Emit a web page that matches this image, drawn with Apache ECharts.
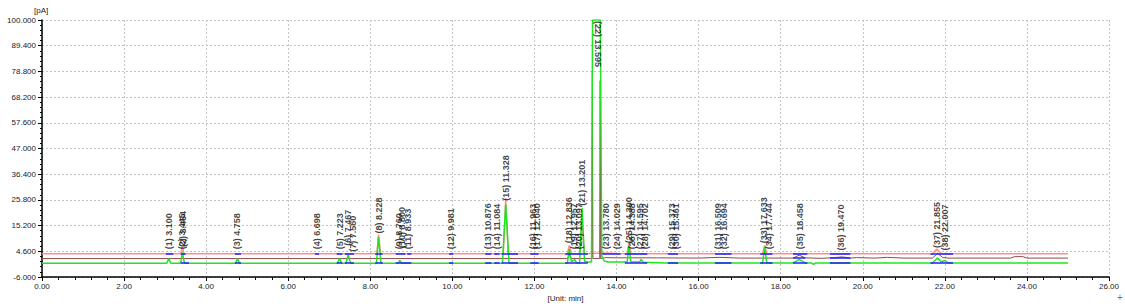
<!DOCTYPE html>
<html>
<head>
<meta charset="utf-8">
<script src="https://cdn.jsdelivr.net/npm/echarts@6/dist/echarts.min.js"></script>
<style>
html,body{margin:0;padding:0;background:#fff;}
#c{width:1125px;height:304px;}
</style>
</head>
<body>
<div id="c"></div>
<script>
// ---- data (time in min, signal in pA) ----
const yUnit = '[pA]';
const xUnit = '[Unit: min]';

const pinkTrace = [
  [0,3.6],[3.38,3.6],[3.42,6.5],[3.46,3.6],[8.16,3.6],[8.2,11.5],[8.25,3.6],
  [11.24,3.6],[11.3,26.5],[11.36,3.6],[12.8,3.6],[12.85,7],[12.9,3.6],
  [13.1,3.6],[13.16,16],[13.22,3.6],[13.38,3.7],[13.7,3.9],[14.0,3.7],
  [14.26,3.6],[14.3,8],[14.35,3.6],[17.56,3.6],[17.61,7],[17.66,3.6],
  [21.7,3.6],[21.8,5.5],[21.92,3.6],[25,3.6]
];

const brownTrace = [
  [0,1.6],[12.8,1.6],[12.85,3],[12.9,1.6],[13.4,1.6],[13.412,79],[13.424,1.6],
  [13.59,1.6],[13.602,75],[13.614,1.6],[13.75,2.0],[14.0,1.9],[15.0,1.9],
  [16.0,1.8],[16.5,2.1],[17.0,1.8],[18.3,1.8],[18.45,3.0],[18.6,1.9],
  [19.0,1.7],[19.3,2.0],[19.5,2.3],[19.7,1.8],[19.85,2.0],[20.3,1.8],
  [20.6,2.1],[21.0,1.8],[21.7,1.8],[21.82,3.8],[21.95,2.0],[22.1,1.8],
  [23.6,1.8],[23.7,2.4],[23.9,2.4],[24.0,1.8],[25,1.8]
];

const greenTrace = [
  [0,-0.3],[3.04,-0.3],[3.09,1.6],[3.14,-0.3],[3.38,-0.3],[3.42,4.2],[3.47,-0.3],
  [4.72,-0.3],[4.76,1.6],[4.81,-0.3],[7.2,-0.3],[7.25,1.8],[7.3,-0.3],
  [7.41,-0.3],[7.46,3.2],[7.52,-0.3],[8.15,-0.3],[8.2,10.5],[8.26,-0.3],
  [8.68,-0.3],[8.72,0.8],[8.76,-0.3],[11.22,-0.3],[11.3,24],[11.38,-0.3],
  [12.8,-0.3],[12.85,5.5],[12.9,0.3],[12.98,1.2],[13.03,-0.2],
  [13.1,-0.2],[13.16,22.5],[13.22,0.5],[13.3,0.2],[13.39,0.2],
  [13.415,100],[13.605,100],[13.64,2.5],[13.7,0.6],[13.8,0.2],
  [14.26,0.2],[14.3,7],[14.35,0.3],[14.56,0.2],[14.6,1.2],[14.65,0.1],
  [15.2,-0.2],[17.56,-0.2],[17.61,6.5],[17.66,-0.2],[18.3,-0.2],
  [18.45,1.2],[18.6,-0.2],[18.75,-0.2],[18.8,-0.8],[18.85,-0.2],
  [21.7,-0.2],[21.82,1.8],[21.92,0.2],[22.0,0.8],[22.08,-0.2],[25,-0.2]
];

// integration baselines: [start, end, level]
const baselines = [
  [3.02,3.2,3.7],[3.38,3.5,3.7],[3.38,3.58,-0.3],[4.7,4.85,3.7],[4.7,4.85,-0.3],
  [6.65,6.75,3.7],[7.18,7.32,3.7],[7.18,7.32,-0.3],[7.38,7.6,3.7],[7.38,7.6,-0.3],
  [8.12,8.3,3.7],[8.12,8.3,-0.3],[8.62,8.85,3.7],[8.62,9.0,-0.3],[8.9,9.0,3.7],
  [9.92,10.02,3.7],[9.92,10.02,-0.3],[10.8,10.95,3.7],[10.8,10.95,-0.3],
  [11.02,11.15,3.7],[11.02,11.15,-0.3],[11.2,11.6,3.7],[11.2,11.6,-0.3],
  [11.9,12.1,3.7],[11.9,12.1,-0.3],[12.75,13.3,3.7],[12.75,13.3,-0.3],
  [13.65,14.1,3.7],[14.2,14.75,3.7],[14.2,14.75,-0.3],[15.25,15.5,3.7],
  [15.25,15.5,-0.3],[16.4,16.8,3.7],[16.4,16.8,-0.3],[17.5,17.8,3.7],
  [17.5,17.8,-0.3],[18.3,18.65,3.7],[18.3,18.6,1.8],[18.3,18.65,-0.3],
  [19.2,19.7,3.7],[19.2,19.7,1.8],[19.2,19.7,-0.3],[21.65,22.2,3.7],[21.65,22.2,-0.3]
];

// peak labels: [time, label base (pA), text]
const peakLabels = [
  [3.10,5,'(1) 3.100'],[3.42,5,'(2) 3.445'],[3.44,6,'(2) 3.454'],[4.76,5,'(3) 4.758'],
  [6.69,5,'(4) 6.698'],[7.25,5,'(5) 7.223'],[7.45,6.5,'(6) 7.467'],[7.58,4,'(7) 7.560'],
  [8.20,11.5,'(8) 8.228'],[8.70,5,'(9) 8.760'],[8.78,5.5,'(10) 8.800'],[8.93,5,'(11) 8.933'],
  [9.97,5,'(12) 9.981'],[10.87,5,'(13) 10.876'],[11.08,5,'(14) 11.084'],
  [11.30,25,'(15) 11.328'],[11.96,5,'(16) 11.963'],[12.05,5,'(17) 12.040'],
  [12.84,7.5,'(18) 12.836'],[12.96,5,'(19) 12.957'],[13.08,5,'(20) 13.097'],
  [13.17,23,'(21) 13.201'],[13.75,5,'(23) 13.780'],[14.02,5,'(24) 14.029'],
  [14.30,7.5,'(25) 14.300'],[14.38,5,'(26) 14.388'],[14.58,5,'(27) 14.595'],
  [14.70,5,'(28) 14.702'],[15.35,5,'(29) 15.373'],[15.45,5,'(30) 15.461'],
  [16.48,5,'(31) 16.509'],[16.62,5,'(32) 16.694'],[17.60,7.5,'(33) 17.633'],
  [17.72,5,'(34) 17.744'],[18.46,5,'(35) 18.458'],[19.46,4.5,'(36) 19.470'],
  [21.82,5.5,'(37) 21.855'],[22.00,4.5,'(38) 22.007']
];
const topLabels = [[13.56,100,'(22) 13.595']];

const FONT = 'Liberation Sans, Arial, sans-serif';
const chart = echarts.init(document.getElementById('c'), null, {renderer:'svg'});
const dashed = {show:true, lineStyle:{color:'#c4c4c4', type:[2,2], width:1}};

chart.setOption({
  animation:false,
  backgroundColor:'#fff',
  grid:{left:42, top:20, width:1067, height:257, containLabel:false, outerBoundsMode:'none'},
  xAxis:{
    type:'value', min:0, max:26, interval:2,
    name:xUnit, nameLocation:'middle', nameGap:14,
    nameTextStyle:{fontSize:8, color:'#222', fontFamily:FONT, padding:[0,20,0,0]},
    axisLine:{onZero:false, lineStyle:{color:'#000', width:1.5}},
    axisTick:{show:true, length:4, lineStyle:{color:'#000'}},
    minorTick:{show:true, splitNumber:5, length:3, lineStyle:{color:'#000'}},
    splitLine:dashed,
    axisLabel:{fontSize:8, color:'#222', fontFamily:FONT, margin:5,
      formatter:v=>v.toFixed(2)}
  },
  yAxis:{
    type:'value', min:-6, max:100, interval:10.6,
    axisLine:{show:true, onZero:false, lineStyle:{color:'#000', width:1.5}},
    axisTick:{show:true, length:4, lineStyle:{color:'#000'}},
    minorTick:{show:true, splitNumber:5, length:2, lineStyle:{color:'#000'}},
    splitLine:dashed,
    axisLabel:{fontSize:8, color:'#222', fontFamily:FONT, margin:6,
      formatter:v=>v.toFixed(3)}
  },
  graphic:[
    {type:'text', left:34, top:6, style:{text:yUnit, fontSize:8, fill:'#222', fontFamily:FONT}},
    {type:'text', left:1117, top:292, style:{text:'+', fontSize:10, fill:'#777', fontFamily:FONT}}
  ],
  series:[
    {type:'line', data:pinkTrace, symbol:'none', z:2, lineStyle:{color:'#ff8f8f', width:1.5}},
    {type:'line', data:brownTrace, symbol:'none', z:3, lineStyle:{color:'#8c4a4a', width:1}},
    {type:'line', data:greenTrace, symbol:'none', z:4, lineStyle:{color:'#1ee61e', width:1.5}},
    {type:'lines', coordinateSystem:'cartesian2d', z:5,
      data:baselines.map(b=>({coords:[[b[0],b[2]],[b[1],b[2]]]})),
      lineStyle:{color:'#1f1fff', width:1.5, opacity:1}},
    {type:'scatter', data:peakLabels, symbolSize:0, z:6,
      label:{show:true, position:'top', distance:1, rotate:90, align:'left', verticalAlign:'middle',
        fontSize:9, fontWeight:'bold', color:'#111', fontFamily:FONT, formatter:p=>p.data[2]}},
    {type:'scatter', data:topLabels, symbolSize:0, z:6,
      label:{show:true, position:'bottom', distance:1, rotate:-90, align:'left', verticalAlign:'middle',
        fontSize:9, fontWeight:'bold', color:'#111', fontFamily:FONT, formatter:p=>p.data[2]}}
  ]
});
</script>
</body>
</html>
